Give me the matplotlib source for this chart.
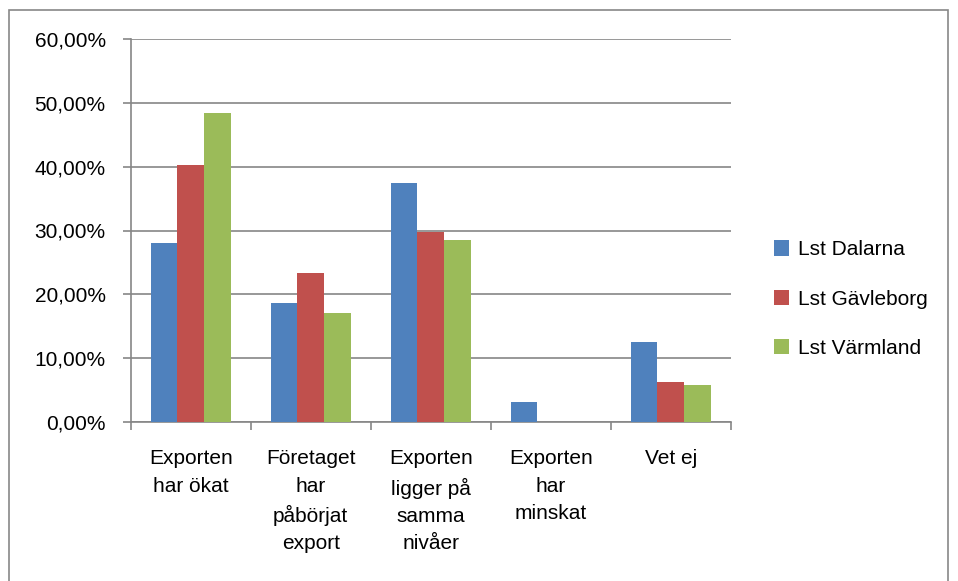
import matplotlib.pyplot as plt
import matplotlib.patches as mpatches
import numpy as np

plt.rcParams['font.family'] = ['Liberation Sans', 'DejaVu Sans']

# Data (percent)
categories = ["Exporten\nhar ökat", "Företaget\nhar\npåbörjat\nexport",
              "Exporten\nligger på\nsamma\nnivåer", "Exporten\nhar\nminskat", "Vet ej"]
series_names = ["Lst Dalarna", "Lst Gävleborg", "Lst Värmland"]
dalarna = [28.1, 18.7, 37.5, 3.05, 12.5]
gavleborg = [40.3, 23.4, 29.7, 0.0, 6.3]
varmland = [48.5, 17.0, 28.5, 0.0, 5.7]
colors = ["#4F81BD", "#C0504D", "#9BBB59"]
yticks = [0, 10, 20, 30, 40, 50, 60]

fig = plt.figure(figsize=(9.58, 5.81), dpi=100)
# outer chart border
fig.patches.append(mpatches.Rectangle((9 / 958, -0.01), 939 / 958, 1 - 10 / 581 + 0.01,
                                      transform=fig.transFigure, fill=False,
                                      edgecolor="#878787", linewidth=1.2))

ax = fig.add_axes([130.7 / 958, 159.3 / 581, 600 / 958, 382.4 / 581])

x = np.arange(len(categories))
w = 1 / 4.5
for i, (vals, name) in enumerate(zip([dalarna, gavleborg, varmland], series_names)):
    ax.bar(x + (i - 1) * w, vals, width=w, color=colors[i], label=name, zorder=3)

ax.set_xlim(-0.5, len(categories) - 0.5)
ax.set_ylim(0, 60)
ax.set_yticks(yticks)
ax.set_yticklabels([f"{v:.2f}%".replace(".", ",") for v in yticks], fontsize=15)
ax.yaxis.grid(True, color="#868686", linewidth=1.2, zorder=0)

ax.set_xticks(np.arange(len(categories) + 1) - 0.5)
ax.set_xticklabels([])
ax.set_xticks(x, minor=True)
ax.set_xticklabels(categories, minor=True, fontsize=15, linespacing=1.55, va="top")
ax.tick_params(axis="x", which="minor", length=0, pad=20)
ax.tick_params(axis="x", which="major", length=6, color="#868686", width=1.2)
ax.tick_params(axis="y", length=6, color="#868686", width=1.2, pad=12)

for s in ["top", "right"]:
    ax.spines[s].set_visible(False)
for s in ["left", "bottom"]:
    ax.spines[s].set_color("#868686")
    ax.spines[s].set_linewidth(1.2)

fig.legend(loc="center left", bbox_to_anchor=(755 / 958, 1 - 299 / 581), frameon=False,
           fontsize=15, handlelength=0.75, handleheight=0.75, handletextpad=0.4,
           labelspacing=1.45)

fig.savefig("out.png", dpi=100)
